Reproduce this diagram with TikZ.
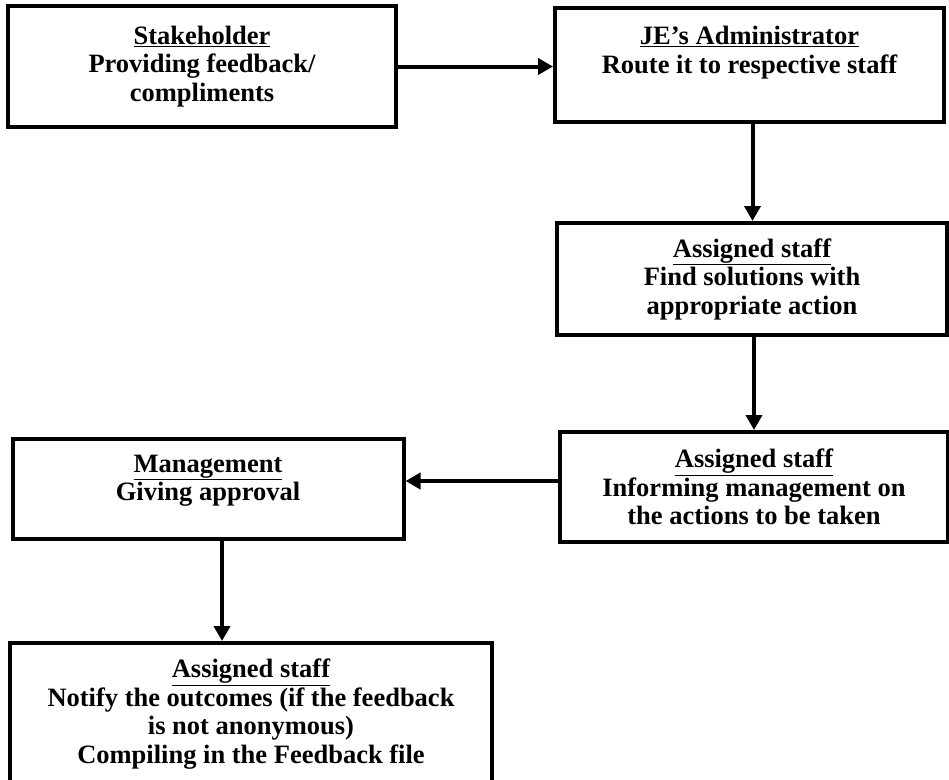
\documentclass[tikz,border=0pt]{standalone}
\usepackage{fontspec}
\setmainfont{Liberation Serif}
\usepackage{tikz}
\usetikzlibrary{arrows.meta,calc}

\begin{document}
\begin{tikzpicture}[x=1pt,y=-1pt]
 % Box style
\tikzset{
    flowbox/.style={draw, line width=4pt, align=center, inner sep=0pt,
        font=\bfseries\fontsize{26.5}{28.5}\selectfont},
    flowarrow/.style={line width=4pt, -{Triangle[length=15pt,width=16pt]}}
}
\useasboundingbox (0,0) rectangle (949,779);

% Boxes
\node[flowbox, minimum width=388pt, minimum height=121pt] (stake) at (202,66.5)
    {\underline{Stakeholder}\\Providing feedback/\\compliments};
\node[flowbox, minimum width=389pt, minimum height=114pt, text depth=30pt] (admin) at (749.5,65)
    {\underline{JE’s Administrator}\\Route it to respective staff};
\node[flowbox, minimum width=390pt, minimum height=112pt] (find) at (752,279)
    {\underline{Assigned staff}\\Find solutions with\\appropriate action};
\node[flowbox, minimum width=388pt, minimum height=110pt] (inform) at (754,487)
    {\underline{Assigned staff}\\Informing management on\\the actions to be taken};
\node[flowbox, minimum width=391pt, minimum height=100pt, text depth=22pt] (mgmt) at (208,489)
    {\underline{Management}\\Giving approval};
\node[flowbox, minimum width=482pt, minimum height=142pt] (notify) at (251,714)
    {\underline{Assigned staff}\\Notify the outcomes (if the feedback\\is not anonymous)\\Compiling in the Feedback file};

% Arrows
\draw[flowarrow] (stake.east) -- (stake.east -| admin.west);
\draw[flowarrow] ([xshift=3pt]admin.south) -- ([xshift=3pt]admin.south |- find.north);
\draw[flowarrow] ([xshift=2pt]find.south) -- ([xshift=2pt]find.south |- inform.north);
\draw[flowarrow] ([yshift=6pt]inform.west) -- ([yshift=6pt]inform.west -| mgmt.east);
\draw[flowarrow] ([xshift=14pt]mgmt.south) -- ([xshift=14pt]mgmt.south |- notify.north);
\end{tikzpicture}
\end{document}
